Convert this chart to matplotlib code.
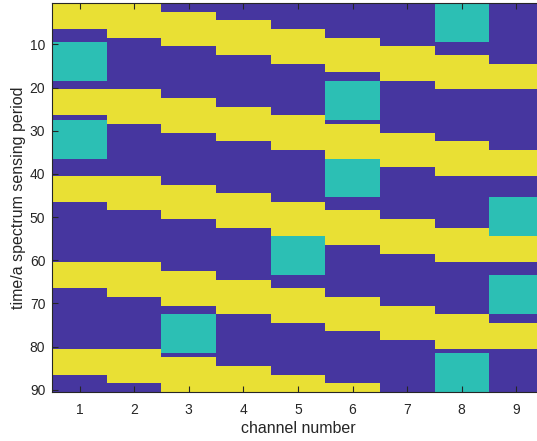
import numpy as np
import matplotlib.pyplot as plt
from matplotlib.colors import ListedColormap

plt.rcParams['font.family'] = ['Liberation Sans', 'DejaVu Sans']

n_periods = 90
channels = [1, 2, 3, 4, 5, 6, 7, 8, 9]

# yellow band (sensing) start rows per channel and band length
band_starts = {
    1: [1, 21, 41, 61, 81],
    2: [1, 21, 41, 61, 81],
    3: [3, 23, 43, 63, 83],
    4: [5, 25, 45, 65, 85],
    5: [7, 27, 47, 67, 87],
    6: [9, 29, 49, 69, 89],
    7: [11, 31, 51, 71],
    8: [13, 33, 53, 73],
    9: [15, 35, 55, 75],
}
band_len = {1: 6, 2: 8, 3: 8, 4: 8, 5: 8, 6: 8, 7: 8, 8: 8, 9: 6}

# teal blocks (first row, last row) per channel
teal_blocks = {
    1: [(10, 18), (28, 36)],
    3: [(73, 81)],
    5: [(55, 63)],
    6: [(19, 27), (37, 45)],
    8: [(1, 9), (82, 90)],
    9: [(46, 54), (64, 72)],
}

M = np.zeros((n_periods, len(channels)))
for c in channels:
    for s in band_starts[c]:
        e = min(s + band_len[c] - 1, n_periods)
        M[s - 1:e, c - 1] = 2
    for a, b in teal_blocks.get(c, []):
        M[a - 1:b, c - 1] = 1

cmap = ListedColormap(['#46369f', '#2cbfb4', '#e9e034'])

fig = plt.figure(figsize=(5.37, 4.41), dpi=100)
ax = fig.add_axes([52.3 / 537, 49 / 441, (543.6 - 52.3) / 537, (392 - 3.3) / 441])
ax.imshow(M, cmap=cmap, vmin=0, vmax=2, aspect='auto', interpolation='nearest',
          extent=(0.5, 9.5, 90.5, 0.5))
ax.set_xlim(0.5, 9.5)
ax.set_ylim(90.5, 0.5)
ax.set_xticks(channels)
ax.set_yticks(range(10, 91, 10))
ax.tick_params(direction='in', length=4, width=0.8, top=True, right=True,
               labelsize=10, colors='#262626')
ax.tick_params(axis='x', pad=8)
ax.tick_params(axis='y', pad=5)
for sp in ax.spines.values():
    sp.set_color('#262626')
    sp.set_linewidth(0.8)
ax.set_xlabel('channel number', fontsize=11.5, color='#262626', labelpad=3)
ax.set_ylabel('time/a spectrum sensing period', fontsize=11.5, color='#262626', labelpad=3)

fig.savefig('out.png', dpi=100)
